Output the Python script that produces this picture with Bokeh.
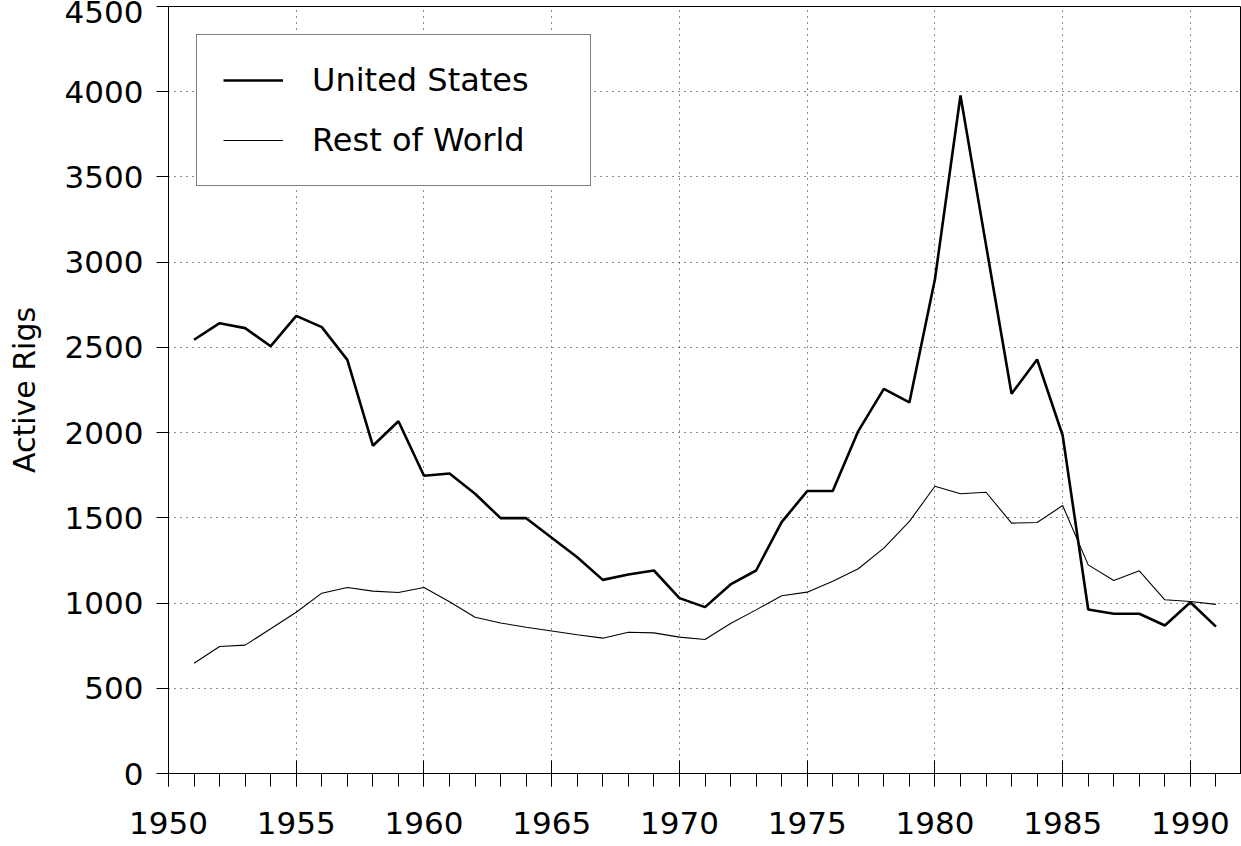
from bokeh.plotting import figure
from bokeh.models import SingleIntervalTicker, Legend, LegendItem, Range1d, ColumnDataSource
from bokeh.embed import file_html
from bokeh.resources import INLINE

years = list(range(1951, 1992))
us_rigs = [2545, 2642, 2613, 2507, 2685, 2619, 2427, 1923, 2067, 1747,
           1760, 1641, 1498, 1498, 1383, 1269, 1136, 1168, 1191, 1029,
           976, 1109, 1191, 1475, 1657, 1657, 2009, 2257, 2177, 2900,
           3978, 3100, 2228, 2429, 1983, 962, 937, 937, 868, 1005, 862]
row_rigs = [647, 745, 753, 849, 946, 1058, 1091, 1070, 1062, 1091,
            1008, 917, 883, 858, 836, 814, 794, 829, 825, 800,
            786, 880, 960, 1043, 1064, 1128, 1201, 1322, 1479, 1685,
            1641, 1650, 1469, 1473, 1572, 1224, 1132, 1189, 1019, 1009, 992]
series_names = ["United States", "Rest of World"]
y_label = "Active Rigs"

FONT = "DejaVu Sans"
FS = "31px"

src = ColumnDataSource(dict(year=years, us=us_rigs, row=row_rigs))

p = figure(width=1241, height=846, output_backend="svg", toolbar_location=None,
           x_range=Range1d(1950, 1992), y_range=Range1d(0, 4500),
           min_border_left=168, min_border_right=0, min_border_top=6, min_border_bottom=73)
p.background_fill_color = "white"
p.border_fill_color = "white"
p.outline_line_color = "black"
p.outline_line_width = 1

r_us = p.line("year", "us", source=src, line_color="black", line_width=2.6)
r_row = p.line("year", "row", source=src, line_color="black", line_width=1.1)

xt = SingleIntervalTicker(interval=5, num_minor_ticks=5)
yt = SingleIntervalTicker(interval=500, num_minor_ticks=0)
p.xaxis.ticker = xt
p.yaxis.ticker = yt

for ax in (p.xaxis[0], p.yaxis[0]):
    ax.axis_line_color = "black"
    ax.axis_line_width = 1
    ax.major_tick_line_color = "black"
    ax.minor_tick_line_color = "black"
    ax.major_label_text_font = FONT
    ax.major_label_text_font_size = FS
    ax.major_label_text_color = "black"

p.xaxis.major_tick_in = 13
p.xaxis.major_tick_out = 13
p.xaxis.minor_tick_in = 0
p.xaxis.minor_tick_out = 13
p.xaxis.major_label_standoff = 25

p.yaxis.major_tick_in = 0
p.yaxis.major_tick_out = 12
p.yaxis.minor_tick_line_color = None
p.yaxis.major_label_standoff = 13
p.yaxis.axis_label = y_label
p.yaxis.axis_label_text_font = FONT
p.yaxis.axis_label_text_font_size = "30px"
p.yaxis.axis_label_text_font_style = "normal"
p.yaxis.axis_label_text_color = "black"
p.yaxis.axis_label_standoff = 20

p.xgrid.ticker = xt
p.ygrid.ticker = yt
for g in (p.xgrid[0], p.ygrid[0]):
    g.grid_line_color = "black"
    g.grid_line_dash = "1 5"
    g.grid_line_width = 1
    g.grid_line_alpha = 0.9

legend = Legend(items=[LegendItem(label=series_names[0], renderers=[r_us]),
                       LegendItem(label=series_names[1], renderers=[r_row])],
                location="top_left")
legend.margin = 28
legend.padding = 26
legend.spacing = 22
legend.glyph_width = 60
legend.glyph_height = 30
legend.label_standoff = 29
legend.label_width = 252
legend.label_height = 30
legend.label_text_font = FONT
legend.label_text_font_size = "32px"
legend.label_text_color = "black"
legend.border_line_color = "black"
legend.border_line_width = 1
legend.background_fill_color = "white"
legend.background_fill_alpha = 1.0
p.add_layout(legend)

open("out.html", "w").write(file_html(p, INLINE))
